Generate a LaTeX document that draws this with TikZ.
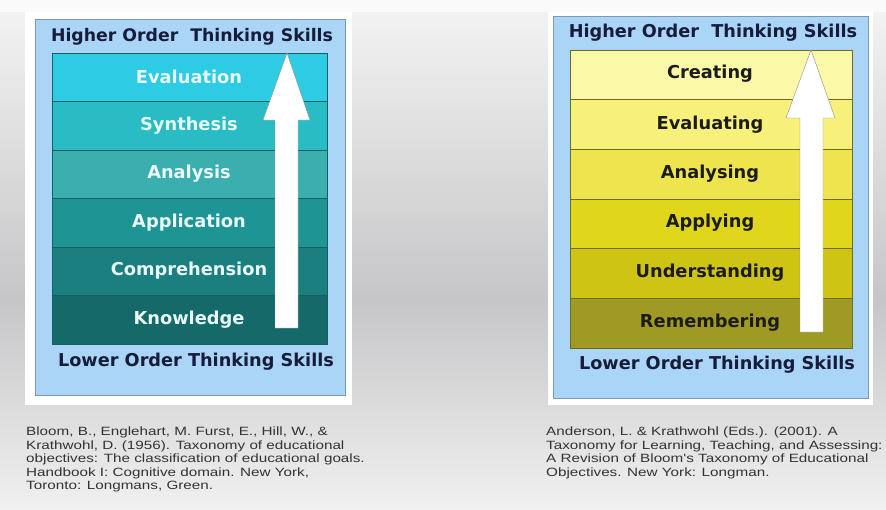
\documentclass[tikz,border=0pt]{standalone}
\usepackage{fontspec}
\setmainfont{DejaVu Sans}
\newfontfamily\citefont[FakeStretch=1.27]{Liberation Sans}
\definecolor{bgtop}{HTML}{F2F2F2}
\definecolor{bgmid}{HTML}{C6C6C8}
\definecolor{bgbot}{HTML}{F0F0F0}
\definecolor{panelblue}{HTML}{AAD5F6}
\definecolor{panelline}{HTML}{7E98AC}
\definecolor{headtext}{HTML}{161C3A}
\definecolor{tA}{HTML}{2ECBE4}
\definecolor{tB}{HTML}{29BCC4}
\definecolor{tC}{HTML}{3BAEB0}
\definecolor{tD}{HTML}{1F9494}
\definecolor{tE}{HTML}{1A7F7E}
\definecolor{tF}{HTML}{156A69}
\definecolor{tline}{HTML}{146060}
\definecolor{tlabel}{HTML}{E8F8F6}
\definecolor{yA}{HTML}{FBF8A8}
\definecolor{yB}{HTML}{F7F07A}
\definecolor{yC}{HTML}{EDE44E}
\definecolor{yD}{HTML}{E0D71C}
\definecolor{yE}{HTML}{CEC414}
\definecolor{yF}{HTML}{9E9A24}
\definecolor{yline}{HTML}{6E6A20}
\definecolor{ylabel}{HTML}{1C1C1C}
\definecolor{citetext}{HTML}{333333}
\tikzset{
  whiteframe/.style={fill=white,draw=none},
  bluebox/.style={fill=panelblue,draw=panelline,line width=0.8pt},
  headlabel/.style={text=headtext,font=\bfseries\fontsize{17.7}{19}\selectfont,inner sep=0pt},
  tlev/.style={draw=tline,line width=0.6pt},
  ylev/.style={draw=yline,line width=0.6pt},
  tlab/.style={text=tlabel,font=\bfseries\fontsize{17.8}{19}\selectfont,inner sep=0pt},
  ylab/.style={text=ylabel,font=\bfseries\fontsize{17.8}{19}\selectfont,inner sep=0pt},
  uparrow/.style={fill=white,draw=black!45,line width=0.4pt},
  citation/.style={text=citetext,font=\citefont\fontsize{12}{13.4}\selectfont,align=left,anchor=north west,inner sep=0pt},
}
\begin{document}
\begin{tikzpicture}[x=1pt,y=-1pt]
\useasboundingbox (0,0) rectangle (886,509);
% background
\fill[white!96!gray] (0,0) rectangle (886,12);
\shade[top color=bgtop,bottom color=bgmid] (0,12) rectangle (886,300);
\shade[top color=bgmid,bottom color=bgbot] (0,300) rectangle (886,509);

% ===== left panel =====
\fill[whiteframe] (25,12) rectangle (352,405);
\draw[bluebox] (35,19) rectangle (345,395);
\node[headlabel,font=\bfseries\fontsize{17.3}{19}\selectfont] (lhead) at (192,37) {Higher Order\ \ Thinking Skills};
\draw[tlev,fill=tA] (52,53) rectangle (327,101.5);
\draw[tlev,fill=tB] (52,101.5) rectangle (327,150);
\draw[tlev,fill=tC] (52,150) rectangle (327,198.5);
\draw[tlev,fill=tD] (52,198.5) rectangle (327,247);
\draw[tlev,fill=tE] (52,247) rectangle (327,295.5);
\draw[tlev,fill=tF] (52,295.5) rectangle (327,344);
\node[tlab] (eval) at (189,77) {Evaluation};
\node[tlab] (synt) at (189,126) {Synthesis};
\node[tlab] (anal) at (189,174) {Analysis};
\node[tlab] (appl) at (189,223) {Application};
\node[tlab] (comp) at (189,271) {Comprehension};
\node[tlab] (know) at (189,320) {Knowledge};
\draw[uparrow] (275,328) -- (275,120) -- (263,120) -- (287,53) -- (310,120) -- (298,120) -- (298,328) -- cycle;
\node[headlabel] (llow) at (196,362) {Lower Order Thinking Skills};

% ===== right panel =====
\fill[whiteframe] (548,12) rectangle (873,405);
\draw[bluebox] (553,16) rectangle (868,398);
\node[headlabel] (rhead) at (713,33) {Higher Order\ \ Thinking Skills};
\draw[ylev,fill=yA] (570,50) rectangle (852,99.7);
\draw[ylev,fill=yB] (570,99.7) rectangle (852,149.3);
\draw[ylev,fill=yC] (570,149.3) rectangle (852,199);
\draw[ylev,fill=yD] (570,199) rectangle (852,248.6);
\draw[ylev,fill=yE] (570,248.6) rectangle (852,298.3);
\draw[ylev,fill=yF] (570,298.3) rectangle (852,348);
\node[ylab] (crea) at (710,74) {Creating};
\node[ylab] (evalg) at (710,125) {Evaluating};
\node[ylab] (analg) at (710,174) {Analysing};
\node[ylab] (applg) at (710,223) {Applying};
\node[ylab] (under) at (710,273) {Understanding};
\node[ylab] (remem) at (710,323) {Remembering};
\draw[uparrow] (800,332) -- (800,118) -- (786,118) -- (811,50) -- (835,118) -- (823,118) -- (823,332) -- cycle;
\node[headlabel] (rlow) at (717,365) {Lower Order Thinking Skills};

% ===== citations =====
\node[citation] (lcite) at (26,427) {Bloom, B., Englehart, M. Furst, E., Hill, W., \&\\Krathwohl, D. (1956). Taxonomy of educational\\objectives: The classification of educational goals.\\Handbook I: Cognitive domain. New York,\\Toronto: Longmans, Green.};
\node[citation] (rcite) at (546,427) {Anderson, L. \& Krathwohl (Eds.). (2001). A\\Taxonomy for Learning, Teaching, and Assessing:\\A Revision of Bloom's Taxonomy of Educational\\Objectives. New York: Longman.};
\end{tikzpicture}
\end{document}
